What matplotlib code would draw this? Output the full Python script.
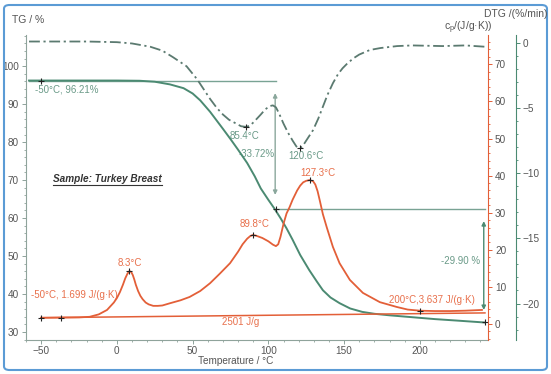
import numpy as np
import matplotlib.pyplot as plt
from matplotlib.patches import FancyBboxPatch
from matplotlib.lines import Line2D

plt.rcParams['font.family'] = ['Liberation Sans', 'DejaVu Sans']
plt.rcParams['mathtext.fontset'] = 'custom'
plt.rcParams['mathtext.rm'] = 'Liberation Sans'
plt.rcParams['mathtext.it'] = 'Liberation Sans:italic'

# TG curve (%)
tg_t = [-58, -50, 0, 15, 25, 35, 44, 50, 55, 61.5, 70, 75, 80, 86, 91, 95, 100, 104, 108,
        112, 116, 121, 127, 132, 136, 141, 147, 154, 162, 170, 180, 195, 210, 225, 243]
tg_v = [96.21, 96.21, 96.21, 96.15, 95.9, 95.2, 94.2, 92.8, 91.0, 88.0, 83.5, 80.8, 78.0,
        74.5, 71.0, 67.8, 64.8, 62.5, 60.0, 57.3, 54.3, 50.3, 46.3, 43.3, 41.0, 39.1, 37.6,
        36.2, 35.3, 34.8, 34.4, 33.9, 33.4, 33.0, 32.5]

# DTG curve (%/min)
dtg_t = [-58, -20, 0, 10, 22, 30, 37, 46, 53, 61.5, 66, 70, 74, 78, 82, 85.4, 88, 91, 95,
         98, 101, 103, 105, 107, 110, 113, 116, 118.5, 120.6, 122.5, 125, 129.5, 133, 136,
         139, 142.6, 146, 149, 152, 156, 160, 167, 174, 185, 195, 215, 230, 243]
dtg_v = [0.1, 0.1, 0.05, -0.05, -0.3, -0.6, -1.1, -1.8, -2.8, -4.3, -5.0, -5.5, -5.9,
         -6.15, -6.4, -6.45, -6.35, -6.0, -5.5, -5.1, -4.85, -4.8, -4.95, -5.4, -6.2, -6.9,
         -7.5, -7.95, -8.1, -7.95, -7.5, -6.7, -5.8, -4.9, -4.0, -3.1, -2.4, -1.95, -1.6,
         -1.2, -0.9, -0.55, -0.4, -0.25, -0.2, -0.25, -0.2, -0.3]

# cp curve (J/(g*K))
cp_t = [-50, -37, -25, -18, -12, -6.5, -2, 0, 2, 4, 5.5, 7, 8.3, 9.5, 10.5, 11.5, 12.5,
        14, 15.5, 17, 19, 21, 24, 27, 30, 35, 42, 48, 55, 61.5, 68, 74.7, 80, 83, 86, 88,
        89.8, 92, 96, 100, 103, 105, 106.5, 108, 110, 112, 114, 116, 119, 121, 123, 125,
        127.3, 129.5, 131, 132.5, 134, 136, 138.6, 142.6, 147, 153.8, 162.4, 173.6, 184.8,
        192, 200, 210, 220, 230, 241]
cp_v = [1.7, 1.75, 1.8, 1.95, 2.6, 3.8, 5.8, 7.0, 8.6, 10.6, 12.3, 13.6, 14.3, 14.0, 13.2,
        12.0, 10.6, 8.9, 7.6, 6.7, 5.8, 5.3, 4.9, 4.9, 5.0, 5.6, 6.4, 7.3, 8.9, 11.0, 13.6,
        16.4, 19.5, 21.5, 23.0, 23.7, 24.0, 23.8, 23.2, 22.3, 21.4, 21.0, 21.5, 23.5, 27.0,
        29.8, 31.5, 33.5, 36.0, 37.3, 38.2, 38.6, 38.8, 38.5, 37.6, 35.8, 33.2, 29.6, 26.0,
        20.8, 16.4, 11.9, 8.4, 5.9, 4.6, 3.9, 3.6, 3.5, 3.5, 3.6, 3.8]
base_t = [-50, 243]
base_v = [1.7, 3.0]

# evaluation steps
step1_t, step1_start, step1_end = 105, 96.21, 62.49
step2_t, step2_end = 243, 32.59

green = '#4b8a72'
dgreen = '#5b7a70'
lgreen = '#79a394'
tgreen = '#6a9a88'
red = '#e35f38'
tred = '#e8704c'
grey = '#555555'

fig = plt.figure(figsize=(5.51, 3.74), dpi=100)
ax = fig.add_axes([26/551, 1-340/374, 462/551, 305/374])
ax_cp = ax.twinx()
ax_dtg = ax.twinx()
ax_dtg.spines['right'].set_position(('axes', 490/462))

ax.set_xlim(-60, 245)
ax.set_ylim(27.9, 108.2)
ax_cp.set_ylim(-4.3, 77.9)
ax_dtg.set_ylim(-22.8, 0.6)

for a in (ax, ax_cp, ax_dtg):
    a.spines['top'].set_visible(False)
    a.patch.set_visible(False)
ax.spines['right'].set_visible(False)
ax_cp.spines['left'].set_visible(False)
ax_cp.spines['bottom'].set_visible(False)
ax_dtg.spines['left'].set_visible(False)
ax_dtg.spines['bottom'].set_visible(False)
ax.spines['left'].set_color('#8fa39b')
ax.spines['bottom'].set_color('#8fa39b')
ax_cp.spines['right'].set_color(red)
ax_dtg.spines['right'].set_color(green)

ax.set_xticks([-50, 0, 50, 100, 150, 200])
ax.set_xticks(np.arange(-60, 246, 10), minor=True)
ax.set_yticks(np.arange(30, 101, 10))
ax.set_yticks(np.arange(28, 108.2, 2), minor=True)
ax_cp.set_yticks(np.arange(0, 71, 10))
ax_cp.set_yticks(np.arange(-4, 78, 2), minor=True)
ax_dtg.set_yticks([0, -5, -10, -15, -20])
ax_dtg.set_yticks(np.arange(-22, 1, 1), minor=True)
for a in (ax, ax_cp, ax_dtg):
    a.tick_params(labelsize=7.2, labelcolor=grey, length=3, width=0.7, pad=2)
    a.tick_params(which='minor', length=1.5, width=0.6)
ax.tick_params(colors='#8fa39b', labelcolor=grey)
ax.tick_params(which='minor', colors='#8fa39b')
ax.tick_params(axis='x', pad=1.5)
ax_cp.tick_params(which='both', colors=red, labelcolor=grey)
ax_dtg.tick_params(which='both', colors=green, labelcolor=grey)

# curves
ax.plot(tg_t, tg_v, color=green, lw=1.4, zorder=4)
ax_dtg.plot(dtg_t, dtg_v, color=dgreen, lw=1.3, ls=(0, (6, 2, 1.2, 2)), zorder=4)
ax_cp.plot(cp_t, cp_v, color=red, lw=1.3, zorder=4)
ax_cp.plot(base_t, base_v, color=red, lw=1.1, zorder=3)

# step lines and arrows
ax.plot([tg_t[0], step1_t], [step1_start, step1_start], color=lgreen, lw=1.0)
ax.plot([step1_t, step2_t], [step1_end, step1_end], color=lgreen, lw=1.0)
ax.annotate('', xy=(step1_t - 0.5, 92.9), xytext=(step1_t - 0.5, 66.1),
            arrowprops=dict(arrowstyle='<|-|>', color='#8aa79c', lw=1.0,
                            mutation_scale=6, shrinkA=0, shrinkB=0))
ax.annotate('', xy=(step2_t - 0.8, 59.2), xytext=(step2_t - 0.8, 35.8),
            arrowprops=dict(arrowstyle='<|-|>', color=green, lw=1.0,
                            mutation_scale=6, shrinkA=0, shrinkB=0))

# marks
mk = dict(marker='+', color='#222222', ms=5, mew=0.8, ls='none', zorder=6)
ax.plot([-50, step1_t, step2_t], [step1_start, step1_end, step2_end], **mk)
ax_dtg.plot([85.4, 120.6], [-6.45, -8.1], **mk)
ax_cp.plot([-50, -37, 8.3, 89.8, 127.3, 200], [1.7, 1.75, 14.3, 24.0, 38.8, 3.6], **mk)

# labels
fs = 7
ax.text(-54, 93.9, '-50°C, 96.21%', color=tgreen, fontsize=fs, ha='left', va='center')
ax.text(84, 81.6, '85.4°C', color=tgreen, fontsize=fs, ha='center', va='center')
ax.text(104.5, 76.8, '-33.72%', color=tgreen, fontsize=fs, ha='right', va='center')
ax.text(124.8, 76.3, '120.6°C', color=tgreen, fontsize=fs, ha='center', va='center')
ax.text(132.4, 71.8, '127.3°C', color=tred, fontsize=fs, ha='center', va='center')
ax.text(90.8, 58.4, '89.8°C', color=tred, fontsize=fs, ha='center', va='center')
ax.text(8.7, 48.2, '8.3°C', color=tred, fontsize=fs, ha='center', va='center')
ax.text(-56.6, 39.7, '-50°C, 1.699 J/(g·K)', color=tred, fontsize=fs, ha='left', va='center')
ax.text(82, 32.6, '2501 J/g', color=tred, fontsize=fs, ha='center', va='center')
ax.text(208, 38.4, '200°C,3.637 J/(g·K)', color=tred, fontsize=fs, ha='center', va='center')
ax.text(226.7, 48.7, '-29.90 %', color=tgreen, fontsize=fs, ha='center', va='center')
sample = ax.text(-6, 70.3, 'Sample: Turkey Breast', color='#333333', fontsize=7.2,
                 fontweight='bold', fontstyle='italic', ha='center', va='center')

fig.text(12/551, 1-20/374, 'TG / %', color=grey, fontsize=7.5, ha='left', va='center')
fig.text(548/551, 1-14/374, 'DTG /(%/min)', color=grey, fontsize=7.5, ha='right', va='center')
fig.text(492/551, 1-28/374, r'c$_\mathregular{p}$/(J/g·K))', color=grey, fontsize=7.5,
         ha='right', va='center')
fig.text(236/551, 1-361/374, 'Temperature / °C', color=grey, fontsize=7.2, ha='center',
         va='center')

# underline for the sample title
fig.canvas.draw()
bb = sample.get_window_extent()
fig.add_artist(Line2D([bb.x0 / fig.bbox.width, bb.x1 / fig.bbox.width],
                      [(bb.y0 - 1) / fig.bbox.height] * 2, color='#333333', lw=0.8))

# outer border
fig.patches.append(FancyBboxPatch((4/551, 4/374), 543/551, 365/374,
                                  boxstyle='round,pad=0,rounding_size=0.01',
                                  transform=fig.transFigure, fill=False,
                                  edgecolor='#5b9bd5', lw=1.5))

fig.savefig('out.png', dpi=100)
